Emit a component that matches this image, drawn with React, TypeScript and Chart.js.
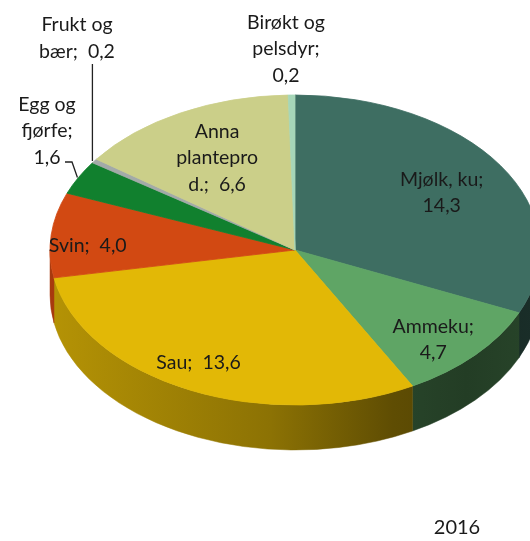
import React, { useEffect, useRef } from "react";
import { Chart, registerables } from "chart.js";

Chart.register(...registerables);

const categories = [
  ["Mjølk, ku;", "14,3"],
  ["Ammeku;", "4,7"],
  ["Sau;  13,6"],
  ["Svin;  4,0"],
  ["Egg og", "fjørfe;", "1,6"],
  ["Frukt og", "bær;  0,2"],
  ["Anna", "plantepro", "d.;  6,6"],
  ["Birøkt og", "pelsdyr;", "0,2"],
];
const values = [14.3, 4.7, 13.6, 4.0, 1.6, 0.2, 6.6, 0.2];
const colors = ["#3E6E62", "#5FA565", "#E2B806", "#D24912", "#11802E", "#A3AAA8", "#CBCF89", "#A6D6B8"];
const yearLabel = "2016";

const K = 155 / 245; // vertical squash of the tilted pie
const DEPTH = 45;
const FONT = "19.5px Lato";

// label placement: inside labels use radial factor of slice mid-angle plus a nudge
const inside: Record<number, [number, number, number]> = {
  0: [0.69, 5, 1],
  1: [0.8, -6, 6],
  2: [0.82, -10, -2],
  3: [0.85, 0, 9],
  6: [0.68, 0, 1],
};

function hexToRgb(h: string) {
  const n = parseInt(h.slice(1), 16);
  return [(n >> 16) & 255, (n >> 8) & 255, n & 255];
}
function shade(h: string, f: number) {
  const [r, g, b] = hexToRgb(h);
  return `rgb(${Math.round(r * f)},${Math.round(g * f)},${Math.round(b * f)})`;
}

const pie3d = {
  id: "pie3d",
  beforeDatasetsDraw(chart: any) {
    const ctx: CanvasRenderingContext2D = chart.ctx;
    const arcs = chart.getDatasetMeta(0).data;
    if (!arcs.length) return;
    const cx = arcs[0].x;
    const cy = arcs[0].y;
    arcs.forEach((arc: any, i: number) => {
      const { startAngle, endAngle, outerRadius: R } = arc;
      const s = Math.max(startAngle, 0);
      const e = Math.min(endAngle, Math.PI);
      if (e <= s) return;
      const g = ctx.createLinearGradient(cx - R, 0, cx + R, 0);
      const c = colors[i];
      g.addColorStop(0, shade(c, 0.8));
      g.addColorStop(0.45, shade(c, 0.62));
      g.addColorStop(0.7, shade(c, 0.42));
      g.addColorStop(0.85, shade(c, 0.37));
      g.addColorStop(1, shade(c, 0.42));
      ctx.save();
      ctx.beginPath();
      ctx.ellipse(cx, cy, R, R * K, 0, s, e, false);
      ctx.lineTo(cx + R * Math.cos(e), cy + R * K * Math.sin(e) + DEPTH);
      ctx.ellipse(cx, cy + DEPTH, R, R * K, 0, e, s, true);
      ctx.closePath();
      ctx.fillStyle = g;
      ctx.fill();
      ctx.strokeStyle = g;
      ctx.lineWidth = 0.5;
      ctx.stroke();
      ctx.restore();
    });
    ctx.save();
    ctx.translate(cx, cy);
    ctx.scale(1, K);
    ctx.translate(-cx, -cy);
  },
  afterDatasetsDraw(chart: any) {
    const ctx: CanvasRenderingContext2D = chart.ctx;
    ctx.restore();
    const arcs = chart.getDatasetMeta(0).data;
    if (!arcs.length) return;
    const cx = arcs[0].x;
    const cy = arcs[0].y;
    const R = arcs[0].outerRadius;
    const proj = (a: number, r: number) => [cx + r * Math.cos(a), cy + r * K * Math.sin(a)];
    const LH = 26.5;
    ctx.save();
    ctx.font = FONT;
    ctx.fillStyle = "#1a1a1a";
    ctx.textAlign = "center";
    ctx.textBaseline = "middle";
    const block = (lines: string[], x: number, y: number) => {
      const top = y - ((lines.length - 1) * LH) / 2;
      lines.forEach((l, j) => ctx.fillText(l, x, top + j * LH));
    };
    arcs.forEach((arc: any, i: number) => {
      const mid = (arc.startAngle + arc.endAngle) / 2;
      const p = inside[i];
      if (p) {
        const [x, y] = proj(mid, R * p[0]);
        block(categories[i], x + p[1], y + p[2]);
      }
    });
    // outside labels with leader lines
    ctx.strokeStyle = "#222";
    ctx.lineWidth = 1.3;
    {
      const a = arcs[5];
      const [ex, ey] = proj((a.startAngle + a.endAngle) / 2, R);
      block(categories[5], 77, 38);
      ctx.beginPath();
      ctx.moveTo(ex - 2, 64);
      ctx.lineTo(ex - 2, ey);
      ctx.stroke();
    }
    {
      const a = arcs[4];
      const [ex, ey] = proj((a.startAngle + a.endAngle) / 2, R);
      block(categories[4], 47, 131);
      ctx.beginPath();
      ctx.moveTo(65, 162);
      ctx.lineTo(72, 162);
      ctx.lineTo(ex - 1, ey);
      ctx.stroke();
    }
    block(categories[7], 286, 49);
    ctx.font = "20px Lato";
    ctx.fillText(yearLabel, 457, 528);
    ctx.restore();
  },
};

export default function App() {
  const ref = useRef<HTMLCanvasElement>(null);
  useEffect(() => {
    if (!ref.current) return;
    const chart = new Chart(ref.current, {
      type: "pie",
      data: {
        labels: categories.map((c) => c.join(" ")),
        datasets: [
          {
            data: values,
            backgroundColor: colors,
            borderColor: colors,
            borderWidth: 1,
            hoverOffset: 0,
            offset: 0,
            clip: false as any,
          },
        ],
      },
      options: {
        animation: false,
        responsive: false,
        events: [],
        radius: 245,
        layout: { padding: { left: 0, right: 10, top: 0, bottom: 41 } },
        plugins: { legend: { display: false }, tooltip: { enabled: false } },
      } as any,
      plugins: [pie3d],
    });
    return () => chart.destroy();
  }, []);
  return (
    <div style={{ position: "absolute", left: 0, top: 0, width: 530, height: 541, overflow: "hidden", background: "#fff" }}>
      <canvas ref={ref} width={600} height={541} style={{ display: "block" }} />
    </div>
  );
}
